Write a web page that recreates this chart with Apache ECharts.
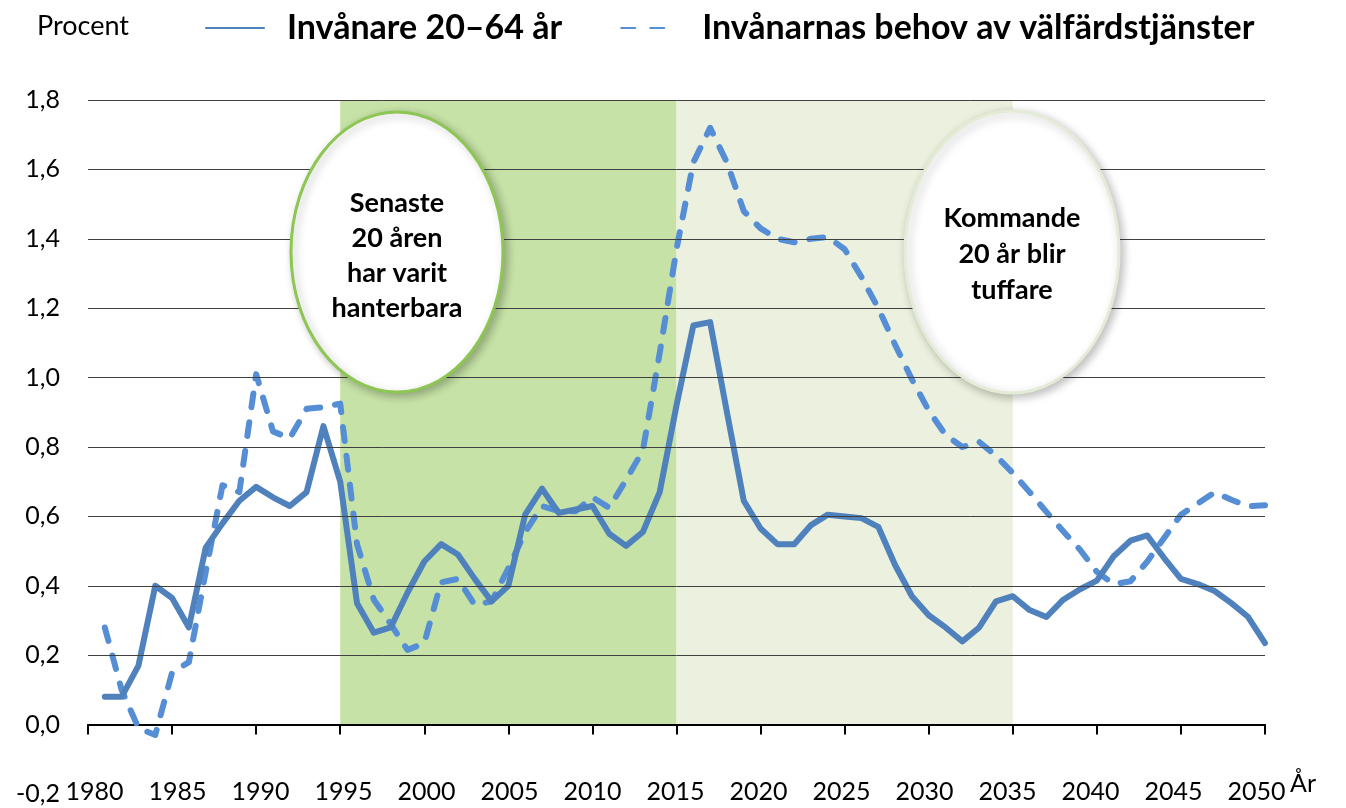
<!DOCTYPE html>
<html>
<head>
<meta charset="utf-8">
<script src="https://cdn.jsdelivr.net/npm/echarts@6/dist/echarts.min.js"></script>
<style>
  html, body { margin: 0; padding: 0; background: #fff; }
  #chart { width: 1346px; height: 808px; }
</style>
</head>
<body>
<div id="chart"></div>
<script>
// år 1981-2050
const years = [
  1981, 1982, 1983, 1984, 1985, 1986, 1987, 1988, 1989, 1990,
  1991, 1992, 1993, 1994, 1995, 1996, 1997, 1998, 1999, 2000,
  2001, 2002, 2003, 2004, 2005, 2006, 2007, 2008, 2009, 2010,
  2011, 2012, 2013, 2014, 2015, 2016, 2017, 2018, 2019, 2020,
  2021, 2022, 2023, 2024, 2025, 2026, 2027, 2028, 2029, 2030,
  2031, 2032, 2033, 2034, 2035, 2036, 2037, 2038, 2039, 2040,
  2041, 2042, 2043, 2044, 2045, 2046, 2047, 2048, 2049, 2050
];

// Invånare 20–64 år, procentuell förändring
const workingAge = [
  0.08, 0.08, 0.17, 0.40, 0.365, 0.28, 0.51, 0.58, 0.645, 0.685,
  0.655, 0.63, 0.67, 0.86, 0.70, 0.35, 0.265, 0.28, 0.38, 0.47,
  0.52, 0.49, 0.42, 0.355, 0.40, 0.605, 0.68, 0.61, 0.62, 0.63,
  0.55, 0.515, 0.555, 0.67, 0.92, 1.15, 1.16, 0.90, 0.645, 0.565,
  0.52, 0.52, 0.575, 0.605, 0.60, 0.595, 0.57, 0.46, 0.37, 0.315,
  0.28, 0.24, 0.28, 0.355, 0.37, 0.33, 0.31, 0.36, 0.39, 0.415,
  0.485, 0.53, 0.545, 0.48, 0.42, 0.405, 0.385, 0.35, 0.31, 0.235
];

// Invånarnas behov av välfärdstjänster
const welfareNeed = [
  0.28, 0.10, -0.01, -0.03, 0.15, 0.18, 0.44, 0.69, 0.67, 1.01,
  0.845, 0.825, 0.91, 0.915, 0.925, 0.52, 0.36, 0.29, 0.215, 0.235,
  0.41, 0.42, 0.345, 0.355, 0.45, 0.555, 0.63, 0.615, 0.615, 0.655,
  0.625, 0.705, 0.79, 1.07, 1.37, 1.62, 1.72, 1.62, 1.48, 1.43,
  1.40, 1.39, 1.40, 1.405, 1.37, 1.29, 1.20, 1.095, 0.995, 0.905,
  0.835, 0.80, 0.815, 0.775, 0.725, 0.67, 0.613, 0.557, 0.504, 0.44,
  0.405, 0.413, 0.47, 0.538, 0.605, 0.637, 0.669, 0.648, 0.629, 0.632
];

const seriesNames = ['Invånare 20–64 år', 'Invånarnas behov av välfärdstjänster'];

// årtal under x-axeln
const yearLabels = [1980, 1985, 1990, 1995, 2000, 2005, 2010, 2015, 2020, 2025, 2030, 2035, 2040, 2045, 2050];

// markerade perioder
const pastPeriod = [1995, 2015];
const futurePeriod = [2015, 2035];

// horisontella stödlinjer
const gridLevels = [0.2, 0.4, 0.6, 0.8, 1.0, 1.2, 1.4, 1.6, 1.8];

const FONT = 'Lato';

const chart = echarts.init(document.getElementById('chart'));

const toPairs = (vals) => years.map((y, i) => [y, vals[i]]);

const option = {
  animation: false,
  textStyle: { fontFamily: FONT },
  grid: { left: 88, right: 81, top: 100, bottom: 14, outerBoundsMode: 'none', containLabel: false },
  legend: {
    data: seriesNames,
    left: 200,
    top: 6,
    itemWidth: 58,
    itemHeight: 14,
    itemGap: 58,
    itemStyle: { opacity: 0 },
    textStyle: {
      fontFamily: FONT,
      fontSize: 34,
      fontWeight: 'bold',
      color: '#000',
      padding: [0, 0, 0, 18]
    }
  },
  xAxis: [
    {
      type: 'value',
      min: 1980,
      max: 2050,
      interval: 5,
      z: 2.5,
      axisLine: { onZero: true, lineStyle: { color: '#000', width: 2 } },
      axisTick: { show: true, length: 10, lineStyle: { color: '#000', width: 2 } },
      axisLabel: { show: false },
      splitLine: { show: false }
    },
    {
      // bara etiketter: i originalet ligger årtalen lite tätare än strecken
      type: 'value',
      position: 'bottom',
      min: 1979.61,
      max: 2050.51,
      axisLine: { show: false, onZero: false },
      axisTick: { show: false },
      splitLine: { show: false },
      axisLabel: {
        margin: -15,
        fontSize: 25,
        color: '#000',
        customValues: yearLabels,
        formatter: v => String(Math.round(v))
      }
    }
  ],
  yAxis: {
    type: 'value',
    min: -0.2,
    max: 1.8,
    interval: 0.2,
    name: 'Procent',
    nameLocation: 'end',
    nameGap: 60,
    nameTextStyle: { fontFamily: FONT, fontSize: 27, color: '#000', align: 'left', padding: [0, 0, 0, -51] },
    axisLine: { show: false },
    axisTick: { show: false },
    splitLine: { show: false },
    axisLabel: {
      margin: 28,
      fontSize: 25,
      color: '#000',
      formatter: v => (Math.round(v * 10) / 10).toFixed(1).replace('.', ',')
    }
  },
  series: [
    {
      name: 'perioder',
      type: 'line',
      data: [],
      z: 1,
      silent: true,
      markArea: {
        silent: true,
        data: [
          [{ xAxis: pastPeriod[0], yAxis: 0, itemStyle: { color: '#c6e2a6' } }, { xAxis: pastPeriod[1], yAxis: 1.8 }],
          [{ xAxis: futurePeriod[0], yAxis: 0, itemStyle: { color: '#ebf1de' } }, { xAxis: futurePeriod[1], yAxis: 1.8 }]
        ]
      }
    },
    {
      name: 'stödlinjer',
      type: 'line',
      data: [],
      z: 2,
      silent: true,
      markLine: {
        silent: true,
        symbol: 'none',
        label: { show: false },
        lineStyle: { color: '#404040', width: 1, type: 'solid' },
        data: gridLevels.map(v => ({ yAxis: v }))
      }
    },
    {
      name: seriesNames[0],
      type: 'line',
      data: toPairs(workingAge),
      z: 4,
      symbol: 'none',
      showSymbol: false,
      color: '#4f81bd',
      lineStyle: { color: '#4f81bd', width: 6, cap: 'round', join: 'round' }
    },
    {
      name: seriesNames[1],
      type: 'line',
      data: toPairs(welfareNeed),
      z: 3,
      symbol: 'none',
      showSymbol: false,
      color: '#558ed5',
      lineStyle: { color: '#558ed5', width: 6, type: [14, 15], cap: 'round', join: 'round' }
    }
  ],
  graphic: [
    {
      type: 'ellipse',
      z: 10,
      shape: { cx: 397, cy: 252, rx: 106, ry: 140 },
      style: {
        fill: '#fff', stroke: '#8dc653', lineWidth: 3,
        shadowBlur: 8, shadowColor: 'rgba(0,0,0,0.25)', shadowOffsetX: 3, shadowOffsetY: 3
      }
    },
    {
      type: 'text',
      z: 11,
      style: {
        text: 'Senaste\n20 åren\nhar varit\nhanterbara',
        x: 397, y: 256,
        align: 'center', verticalAlign: 'middle',
        font: 'bold 27px Lato', lineHeight: 35, fill: '#000'
      }
    },
    {
      type: 'ellipse',
      z: 10,
      shape: { cx: 1012, cy: 252, rx: 107, ry: 141 },
      style: {
        fill: '#fff', stroke: '#e4ebd6', lineWidth: 3,
        shadowBlur: 10, shadowColor: 'rgba(0,0,0,0.25)', shadowOffsetX: 3, shadowOffsetY: 3
      }
    },
    {
      type: 'text',
      z: 11,
      style: {
        text: 'Kommande\n20 år blir\ntuffare',
        x: 1012, y: 254,
        align: 'center', verticalAlign: 'middle',
        font: 'bold 27px Lato', lineHeight: 36, fill: '#000'
      }
    },
    {
      type: 'text',
      z: 11,
      style: {
        text: 'År',
        x: 1290, y: 784,
        align: 'left', verticalAlign: 'middle',
        font: '25px Lato', fill: '#000'
      }
    }
  ]
};

chart.setOption(option);
</script>
</body>
</html>
